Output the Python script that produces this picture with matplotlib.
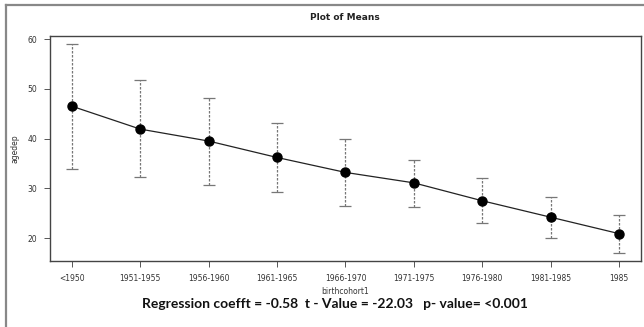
import matplotlib.pyplot as plt
import numpy as np

# data
cohorts = ['<1950', '1951-1955', '1956-1960', '1961-1965', '1966-1970',
           '1971-1975', '1976-1980', '1981-1985', '1985']
means = [46.5, 41.9, 39.5, 36.2, 33.2, 31.1, 27.5, 24.2, 20.9]
upper = [59.0, 51.7, 48.1, 43.2, 39.9, 35.7, 32.1, 28.3, 24.6]
lower = [33.9, 32.2, 30.7, 29.2, 26.5, 26.3, 23.0, 20.0, 17.0]

x = np.arange(len(cohorts))
means = np.array(means)
err = np.vstack([means - np.array(lower), np.array(upper) - means])

fig = plt.figure(figsize=(6.44, 3.27), dpi=100)
ax = fig.add_axes([0.0776, 0.2018, 0.9177, 0.688])

eb = ax.errorbar(x, means, yerr=err, fmt='none', ecolor='#777777',
                 elinewidth=0.9, capsize=4, capthick=0.9)
for lc in eb[2]:
    lc.set_linestyle((0, (2, 1.2)))
ax.plot(x, means, color='#222222', lw=0.9, zorder=3)
ax.plot(x, means, 'o', color='black', ms=6.5, zorder=4)

ax.set_xlim(-0.32, 8.32)
ax.set_ylim(15.4, 60.6)
ax.set_xticks(x, cohorts)
ax.set_yticks([20, 30, 40, 50, 60])
ax.tick_params(labelsize=5.5, labelcolor='#333333', length=4, width=0.7,
               color='#555555', pad=5)
for s in ax.spines.values():
    s.set_color('#444444')
    s.set_linewidth(1.0)

ax.set_ylabel('agedep', fontsize=5.5, color='#333333', labelpad=6)
ax.set_xlabel('birthcohort1', fontsize=5.5, color='#333333', labelpad=3)

fig.text(0.536, 0.948, 'Plot of Means', ha='center', va='center',
         fontsize=6.5, fontweight='bold', color='#222222')
fig.text(0.52, 0.07,
         'Regression coefft = -0.58  t - Value = -22.03   p- value= <0.001',
         ha='center', va='center', fontsize=10, fontweight='bold',
         family=['Lato', 'DejaVu Sans'], color='#111111')

# outer frame (top and left edges visible)
fig.add_artist(plt.Line2D([0.009, 0.009], [0.0, 0.985], color='#888888', lw=1.6))
fig.add_artist(plt.Line2D([0.009, 1.0], [0.985, 0.985], color='#888888', lw=1.6))

fig.savefig('out.png', dpi=100)
